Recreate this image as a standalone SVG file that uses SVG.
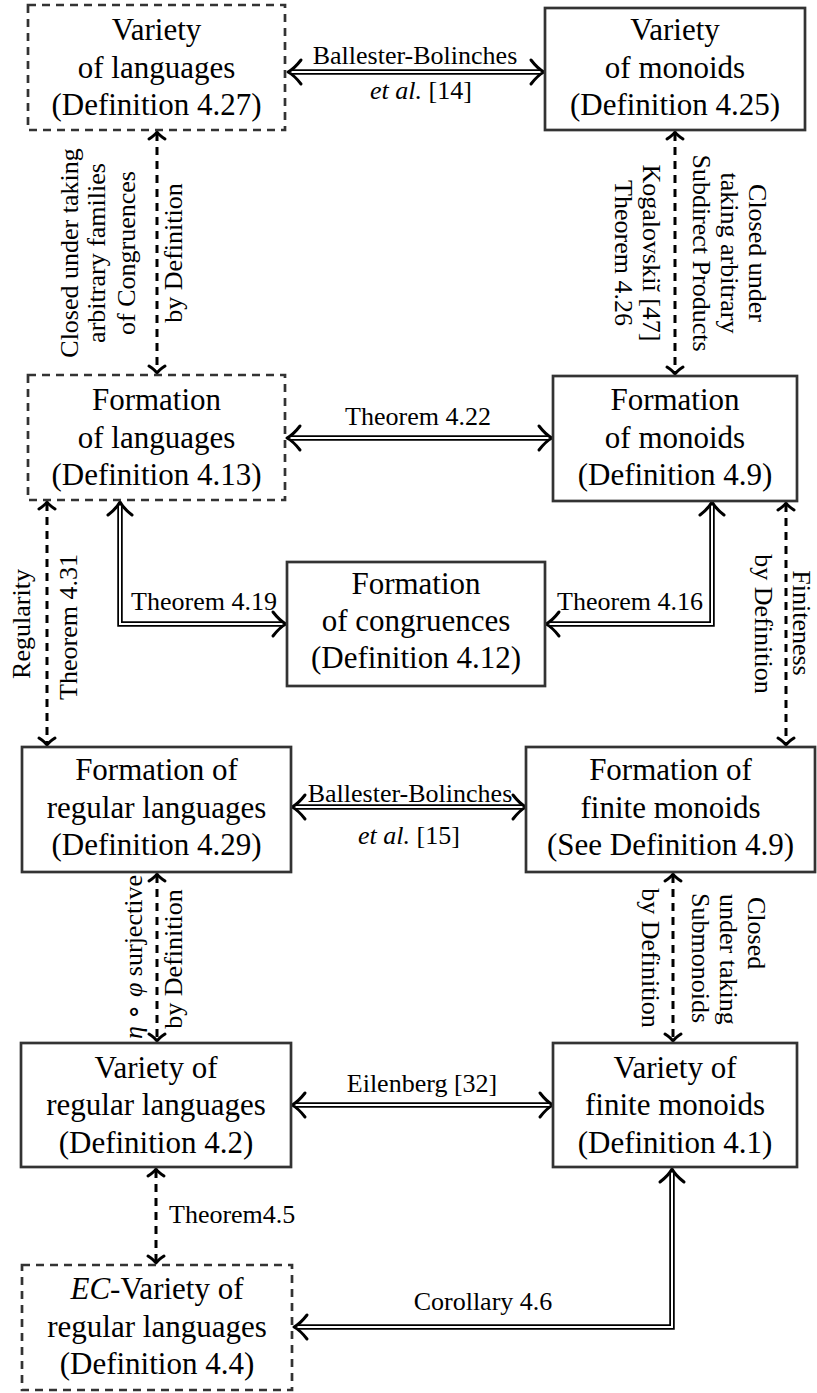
<svg xmlns="http://www.w3.org/2000/svg" xmlns:xlink="http://www.w3.org/1999/xlink" width="817" height="1393" viewBox="0 0 817 1393" font-family="'Liberation Serif', 'Times New Roman', serif">
<style>
.box{fill:#fff;stroke:#333;stroke-width:2.7}
.dbox{fill:#fff;stroke:#333;stroke-width:2.7;stroke-dasharray:8 6}
.t{font-family:"Liberation Serif","Times New Roman",serif;font-size:31px;text-anchor:middle;fill:#000}
.l{font-family:"Liberation Serif","Times New Roman",serif;font-size:26px;text-anchor:middle;fill:#000}
.ls{font-family:"Liberation Serif","Times New Roman",serif;font-size:26px;text-anchor:start;fill:#000}
.i{font-style:italic}
.dash{stroke:#000;stroke-width:3;stroke-dasharray:8 6;fill:none}
.dO{stroke:#000;stroke-width:5.5;fill:none;stroke-linejoin:miter}
.dI{stroke:#fff;stroke-width:2;fill:none;stroke-linejoin:miter}
.hd{stroke:#000;stroke-width:3;fill:none;stroke-linecap:round;stroke-linejoin:round}
</style>
<defs>
<path id="h2" class="hd" d="M-13,-12 Q-6,-3 0,0 Q-6,3 -13,12"/>
<path id="h1" class="hd" d="M-7,-8 Q-3,-2 0,0 Q-3,2 -7,8"/>
</defs>
<rect x="0" y="0" width="817" height="1393" fill="#fff"/>

<g id="connectors">
  <g id="d1"><path class="dO" d="M291,72 H541"/><path class="dI" d="M291,72 H541"/>
    <use xlink:href="#h2" transform="translate(288,72) rotate(180)"/><use xlink:href="#h2" transform="translate(544,72)"/></g>
  <g id="d2"><path class="dO" d="M290,438 H549"/><path class="dI" d="M290,438 H549"/>
    <use xlink:href="#h2" transform="translate(287,438) rotate(180)"/><use xlink:href="#h2" transform="translate(552,438)"/></g>
  <g id="d3"><path class="dO" d="M120,505 V624 H283"/><path class="dI" d="M120,505 V624 H283"/>
    <use xlink:href="#h2" transform="translate(120,502) rotate(-90)"/><use xlink:href="#h2" transform="translate(286,624)"/></g>
  <g id="d4"><path class="dO" d="M712,505 V624 H549"/><path class="dI" d="M712,505 V624 H549"/>
    <use xlink:href="#h2" transform="translate(712,502) rotate(-90)"/><use xlink:href="#h2" transform="translate(546,624) rotate(180)"/></g>
  <g id="d5"><path class="dO" d="M295,807 H523"/><path class="dI" d="M295,807 H523"/>
    <use xlink:href="#h2" transform="translate(292,807) rotate(180)"/><use xlink:href="#h2" transform="translate(526,807)"/></g>
  <g id="d6"><path class="dO" d="M295,1105 H550"/><path class="dI" d="M295,1105 H550"/>
    <use xlink:href="#h2" transform="translate(292,1105) rotate(180)"/><use xlink:href="#h2" transform="translate(553,1105)"/></g>
  <g id="d7"><path class="dO" d="M672,1172 V1327 H297"/><path class="dI" d="M672,1172 V1327 H297"/>
    <use xlink:href="#h2" transform="translate(672,1169) rotate(-90)"/><use xlink:href="#h2" transform="translate(294,1327) rotate(180)"/></g>
  <g id="a1"><path class="dash" d="M157,133 V372"/><use xlink:href="#h1" transform="translate(157,132) rotate(-90)"/><use xlink:href="#h1" transform="translate(157,373) rotate(90)"/></g>
  <g id="a2"><path class="dash" d="M675,133 V373"/><use xlink:href="#h1" transform="translate(675,132) rotate(-90)"/><use xlink:href="#h1" transform="translate(675,374) rotate(90)"/></g>
  <g id="a3"><path class="dash" d="M47,503 V744"/><use xlink:href="#h1" transform="translate(47,502) rotate(-90)"/><use xlink:href="#h1" transform="translate(47,745) rotate(90)"/></g>
  <g id="a4"><path class="dash" d="M786,504 V744"/><use xlink:href="#h1" transform="translate(786,503) rotate(-90)"/><use xlink:href="#h1" transform="translate(786,745) rotate(90)"/></g>
  <g id="a5"><path class="dash" d="M157,875 V1040"/><use xlink:href="#h1" transform="translate(157,874) rotate(-90)"/><use xlink:href="#h1" transform="translate(157,1041) rotate(90)"/></g>
  <g id="a6"><path class="dash" d="M673,875 V1040"/><use xlink:href="#h1" transform="translate(673,874) rotate(-90)"/><use xlink:href="#h1" transform="translate(673,1041) rotate(90)"/></g>
  <g id="a7"><path class="dash" d="M156,1170 V1262"/><use xlink:href="#h1" transform="translate(156,1169) rotate(-90)"/><use xlink:href="#h1" transform="translate(156,1263) rotate(90)"/></g>

  <text class="l" x="415" y="64">Ballester-Bolinches</text>
  <text class="l" x="421" y="99"><tspan class="i">et al.</tspan> [14]</text>
  <text class="l" x="418" y="425">Theorem 4.22</text>
  <text class="l" x="204" y="610">Theorem 4.19</text>
  <text class="l" x="630" y="610">Theorem 4.16</text>
  <text class="l" x="410" y="802">Ballester-Bolinches</text>
  <text class="l" x="409" y="844"><tspan class="i">et al.</tspan> [15]</text>
  <text class="l" x="422" y="1092">Eilenberg [32]</text>
  <text class="ls" x="169" y="1223">Theorem4.5</text>
  <text class="l" x="483" y="1310">Corollary 4.6</text>

  <text class="l" transform="translate(78,253) rotate(-90)">Closed under taking</text>
  <text class="l" transform="translate(105,253) rotate(-90)">arbitrary families</text>
  <text class="l" transform="translate(135,253) rotate(-90)">of Congruences</text>
  <text class="l" transform="translate(182,253) rotate(-90)">by Definition</text>

  <text class="l" transform="translate(749,253) rotate(90)">Closed under</text>
  <text class="l" transform="translate(721,253) rotate(90)">taking arbitrary</text>
  <text class="l" transform="translate(693,253) rotate(90)">Subdirect Products</text>
  <text class="l" transform="translate(643,253) rotate(90)">Kogalovskiĭ [47]</text>
  <text class="l" transform="translate(615,253) rotate(90)">Theorem 4.26</text>

  <text class="l" transform="translate(30,624) rotate(-90)">Regularity</text>
  <text class="l" transform="translate(77,627) rotate(-90)">Theorem 4.31</text>
  <text class="l" transform="translate(793,623) rotate(90)">Finiteness</text>
  <text class="l" transform="translate(755,624) rotate(90)">by Definition</text>

  <text class="l" transform="translate(142,957) rotate(-90)"><tspan class="i">η</tspan> ∘ <tspan class="i">φ</tspan> surjective</text>
  <text class="l" transform="translate(182,959) rotate(-90)">by Definition</text>
  <text class="ls" transform="translate(748,897) rotate(90)">Closed</text>
  <text class="ls" transform="translate(720,894) rotate(90)">under taking</text>
  <text class="ls" transform="translate(692,893) rotate(90)">Submonoids</text>
  <text class="l" transform="translate(642,958) rotate(90)">by Definition</text>
</g>

<g id="n1"><rect class="dbox" x="28" y="5" width="257" height="125"/>
  <text class="t" x="156.5" y="40">Variety</text><text class="t" x="156.5" y="77.5">of languages</text><text class="t" x="156.5" y="115">(Definition 4.27)</text></g>
<g id="n2"><rect class="box" x="545" y="8" width="260" height="122"/>
  <text class="t" x="675" y="40">Variety</text><text class="t" x="675" y="77.5">of monoids</text><text class="t" x="675" y="115">(Definition 4.25)</text></g>
<g id="n3"><rect class="dbox" x="28" y="375" width="257" height="125"/>
  <text class="t" x="156.5" y="410">Formation</text><text class="t" x="156.5" y="447.5">of languages</text><text class="t" x="156.5" y="485">(Definition 4.13)</text></g>
<g id="n4"><rect class="box" x="553" y="376" width="244" height="125"/>
  <text class="t" x="675" y="410">Formation</text><text class="t" x="675" y="447.5">of monoids</text><text class="t" x="675" y="485">(Definition 4.9)</text></g>
<g id="n5"><rect class="box" x="287" y="562" width="258" height="124"/>
  <text class="t" x="416" y="594">Formation</text><text class="t" x="416" y="631">of congruences</text><text class="t" x="416" y="668">(Definition 4.12)</text></g>
<g id="n7"><rect class="box" x="22" y="747" width="269" height="125"/>
  <text class="t" x="156.5" y="780">Formation of</text><text class="t" x="156.5" y="817.5">regular languages</text><text class="t" x="156.5" y="855">(Definition 4.29)</text></g>
<g id="n6"><rect class="box" x="526" y="747" width="289" height="125"/>
  <text class="t" x="670.5" y="780">Formation of</text><text class="t" x="670.5" y="817.5">finite monoids</text><text class="t" x="670.5" y="855">(See Definition 4.9)</text></g>
<g id="n9"><rect class="box" x="21" y="1043" width="270" height="124"/>
  <text class="t" x="156" y="1077.5">Variety of</text><text class="t" x="156" y="1115">regular languages</text><text class="t" x="156" y="1152.5">(Definition 4.2)</text></g>
<g id="n10"><rect class="box" x="553" y="1043" width="244" height="124"/>
  <text class="t" x="675" y="1077.5">Variety of</text><text class="t" x="675" y="1115">finite monoids</text><text class="t" x="675" y="1152.5">(Definition 4.1)</text></g>
<g id="n11"><rect class="dbox" x="22" y="1265" width="270" height="125"/>
  <text class="t" x="157" y="1299"><tspan class="i">EC</tspan>-Variety of</text><text class="t" x="157" y="1336.5">regular languages</text><text class="t" x="157" y="1374">(Definition 4.4)</text></g>
</svg>
